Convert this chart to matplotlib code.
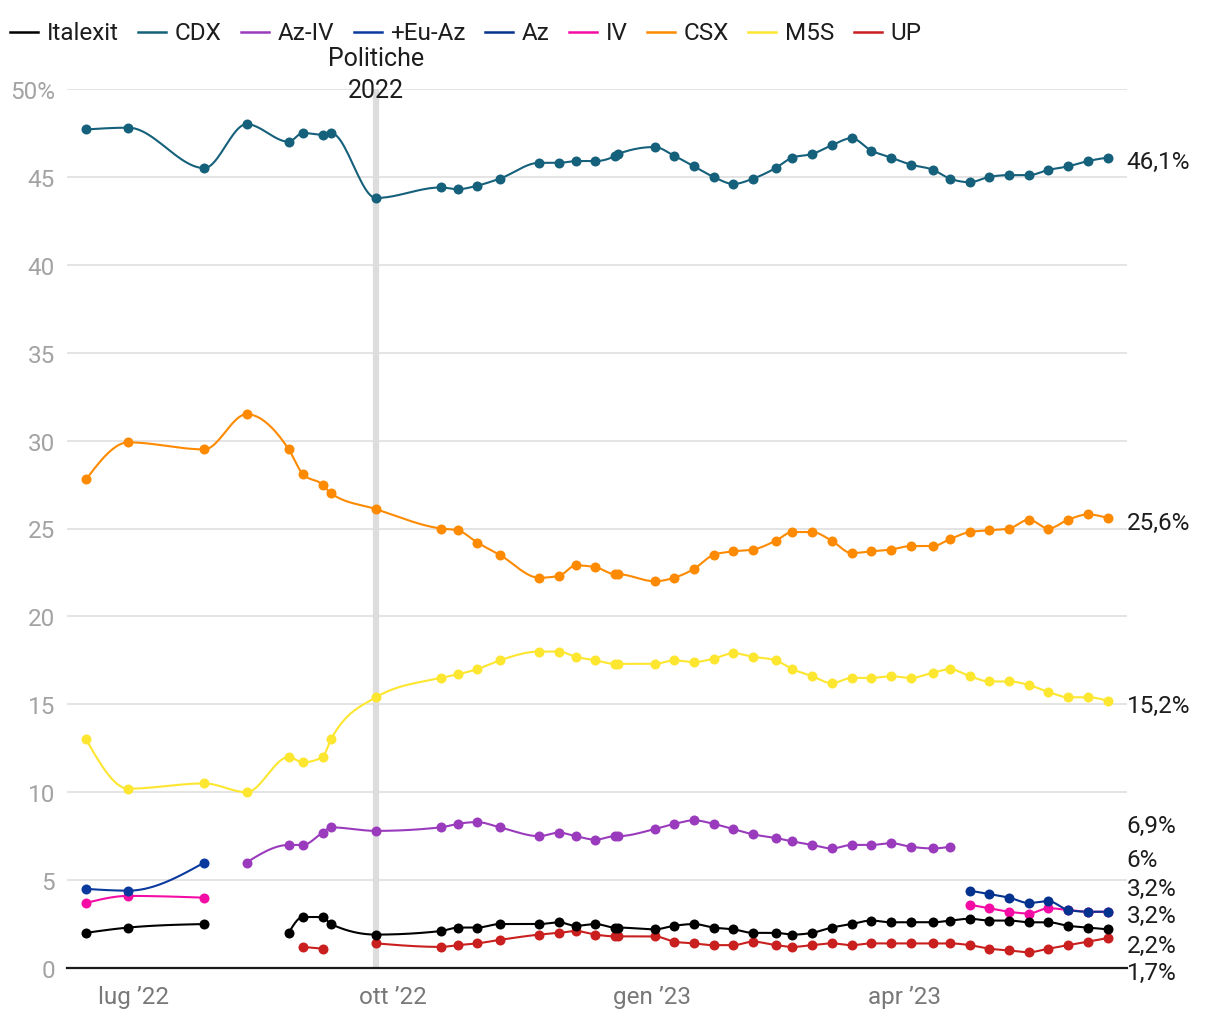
import datetime as dt

import numpy as np
import matplotlib
matplotlib.use("Agg")
import matplotlib.pyplot as plt
import matplotlib.dates as mdates
import matplotlib.transforms as mtransforms
from matplotlib.lines import Line2D

plt.rcParams["font.family"] = ["Roboto", "DejaVu Sans"]

# poll dates (one column per survey)
dates = [
    "2022-06-14", "2022-06-29", "2022-07-26", "2022-08-10", "2022-08-25",
    "2022-08-30", "2022-09-06", "2022-09-09", "2022-09-25", "2022-10-18",
    "2022-10-24", "2022-10-31", "2022-11-08", "2022-11-22", "2022-11-29",
    "2022-12-05", "2022-12-12", "2022-12-19", "2022-12-20", "2023-01-02",
    "2023-01-09", "2023-01-16", "2023-01-23", "2023-01-30", "2023-02-06",
    "2023-02-14", "2023-02-20", "2023-02-27", "2023-03-06", "2023-03-13",
    "2023-03-20", "2023-03-27", "2023-04-03", "2023-04-11", "2023-04-17",
    "2023-04-24", "2023-05-01", "2023-05-08", "2023-05-15", "2023-05-22",
    "2023-05-29", "2023-06-05", "2023-06-12",
]
N = None

italexit = [2.0, 2.3, 2.5, N, 2.0, 2.9, 2.9, 2.5, 1.9,
            2.1, 2.3, 2.3, 2.5, 2.5, 2.6, 2.4, 2.5, 2.3, 2.3,
            2.2, 2.4, 2.5, 2.3, 2.2, 2.0, 2.0, 1.9, 2.0, 2.3,
            2.5, 2.7, 2.6, 2.6, 2.6, 2.7, 2.8, 2.7, 2.7, 2.6,
            2.6, 2.4, 2.3, 2.2]
cdx = [47.7, 47.8, 45.5, 48.0, 47.0, 47.5, 47.4, 47.5, 43.8,
       44.4, 44.3, 44.5, 44.9, 45.8, 45.8, 45.9, 45.9, 46.2, 46.3,
       46.7, 46.2, 45.6, 45.0, 44.6, 44.9, 45.5, 46.1, 46.3, 46.8,
       47.2, 46.5, 46.1, 45.7, 45.4, 44.9, 44.7, 45.0, 45.1, 45.1,
       45.4, 45.6, 45.9, 46.1]
az_iv = [N, N, N, 6.0, 7.0, 7.0, 7.7, 8.0, 7.8,
         8.0, 8.2, 8.3, 8.0, 7.5, 7.7, 7.5, 7.3, 7.5, 7.5,
         7.9, 8.2, 8.4, 8.2, 7.9, 7.6, 7.4, 7.2, 7.0, 6.8,
         7.0, 7.0, 7.1, 6.9, 6.8, 6.9, N, N, N, N,
         N, N, N, N]
eu_az = [4.5, 4.4, 6.0] + [N] * 40
az = [N] * 35 + [4.4, 4.2, 4.0, 3.7, 3.8, 3.3, 3.2, 3.2]
iv = [3.7, 4.1, 4.0] + [N] * 32 + [3.6, 3.4, 3.2, 3.1, 3.4, 3.3, 3.2, 3.2]
csx = [27.8, 29.9, 29.5, 31.5, 29.5, 28.1, 27.5, 27.0, 26.1,
       25.0, 24.9, 24.2, 23.5, 22.2, 22.3, 22.9, 22.8, 22.4, 22.4,
       22.0, 22.2, 22.7, 23.5, 23.7, 23.8, 24.3, 24.8, 24.8, 24.3,
       23.6, 23.7, 23.8, 24.0, 24.0, 24.4, 24.8, 24.9, 25.0, 25.5,
       25.0, 25.5, 25.8, 25.6]
m5s = [13.0, 10.2, 10.5, 10.0, 12.0, 11.7, 12.0, 13.0, 15.4,
       16.5, 16.7, 17.0, 17.5, 18.0, 18.0, 17.7, 17.5, 17.3, 17.3,
       17.3, 17.5, 17.4, 17.6, 17.9, 17.7, 17.5, 17.0, 16.6, 16.2,
       16.5, 16.5, 16.6, 16.5, 16.8, 17.0, 16.6, 16.3, 16.3, 16.1,
       15.7, 15.4, 15.4, 15.2]
up = [N, N, N, N, N, 1.2, 1.1, N, 1.4,
      1.2, 1.3, 1.4, 1.6, 1.9, 2.0, 2.1, 1.9, 1.8, 1.8,
      1.8, 1.5, 1.4, 1.3, 1.3, 1.5, 1.3, 1.2, 1.3, 1.4,
      1.3, 1.4, 1.4, 1.4, 1.4, 1.4, 1.3, 1.1, 1.0, 0.9,
      1.1, 1.3, 1.5, 1.7]

names = ["Italexit", "CDX", "Az-IV", "+Eu-Az", "Az", "IV", "CSX", "M5S", "UP"]
series = [italexit, cdx, az_iv, eu_az, az, iv, csx, m5s, up]
colors = ["#000000", "#15607a", "#9a3bbd", "#0a3a9e", "#04338f",
          "#f50ca5", "#fd8a00", "#fde62f", "#c91f1f"]

x_ticks = ["2022-07-01", "2022-10-01", "2023-01-01", "2023-04-01"]
x_tick_labels = ["lug \u201922", "ott \u201922", "gen \u201923", "apr \u201923"]
election = "2022-09-25"

# where the end labels sit (dodged so they do not overlap)
label_y = {"CDX": 45.9, "CSX": 25.35, "M5S": 14.95, "Az-IV": 8.13,
           "+Eu-Az": 6.2, "Az": 4.55, "IV": 2.96, "Italexit": 1.31, "UP": -0.28}

FS = 17.5


def monotone_curve(x, y, steps=24):
    """Monotone cubic (d3 curveMonotoneX style) through the points"""
    x = np.asarray(x, float)
    y = np.asarray(y, float)
    n = len(x)
    if n < 3:
        return x, y
    h = np.diff(x)
    s = np.diff(y) / h
    t = np.zeros(n)
    for i in range(1, n - 1):
        p = (s[i - 1] * h[i] + s[i] * h[i - 1]) / (h[i - 1] + h[i])
        t[i] = (np.sign(s[i - 1]) + np.sign(s[i])) * min(abs(s[i - 1]), abs(s[i]), 0.5 * abs(p))
    t[0] = (3 * s[0] - t[1]) / 2
    t[-1] = (3 * s[-1] - t[-2]) / 2
    xs, ys = [x[0]], [y[0]]
    u = np.linspace(0, 1, steps)[1:]
    for i in range(n - 1):
        h00 = 2 * u**3 - 3 * u**2 + 1
        h10 = u**3 - 2 * u**2 + u
        h01 = -2 * u**3 + 3 * u**2
        h11 = u**3 - u**2
        xs.extend(x[i] + u * h[i])
        ys.extend(h00 * y[i] + h10 * h[i] * t[i] + h01 * y[i + 1] + h11 * h[i] * t[i + 1])
    return np.array(xs), np.array(ys)


def segments(xv, yv):
    seg_x, seg_y = [], []
    for xi, yi in zip(xv, yv):
        if yi is None:
            if seg_x:
                yield seg_x, seg_y
            seg_x, seg_y = [], []
        else:
            seg_x.append(xi)
            seg_y.append(yi)
    if seg_x:
        yield seg_x, seg_y


def fmt(v):
    txt = f"{v:.1f}".replace(".", ",")
    if txt.endswith(",0"):
        txt = txt[:-2]
    return txt + "%"


W, H = 1220, 1020
fig = plt.figure(figsize=(W / 100, H / 100), dpi=100)
ax = fig.add_axes([67 / W, 1 - 969 / H, 1060 / W, 879 / H])

xnum = mdates.date2num([dt.date.fromisoformat(d) for d in dates])
ref = mdates.date2num(dt.date(2022, 7, 1))
ax.set_xlim(ref - 23.8, ref - 23.8 + 376.7)
ax.set_ylim(0, 50)

# draw back to front so Az sits over IV and Italexit on top
for name, vals, col in reversed(list(zip(names, series, colors))):
    for sx, sy in segments(xnum, vals):
        cx, cy = monotone_curve(sx, sy)
        ax.plot(cx, cy, color=col, lw=1.5, zorder=3, solid_capstyle="round")
        ax.plot(sx, sy, "o", color=col, ms=7.2, mew=0, zorder=4)

# end labels
lab_tr = mtransforms.blended_transform_factory(ax.transAxes, ax.transData)
for name, vals in zip(names, series):
    last = [v for v in vals if v is not None][-1]
    ax.text(0.9995, label_y[name], fmt(last), transform=lab_tr, ha="left", va="center",
            fontsize=FS, color="#1d1d1d", clip_on=False)

# election marker
elec = mdates.date2num(dt.date.fromisoformat(election))
ax.axvline(elec, color="#dddddd", lw=4.5, zorder=1)
ax.text(elec, 50.86, "Politiche\n2022", ha="center", va="center", fontsize=18,
        color="#1d1d1d", linespacing=1.42, clip_on=False, zorder=5)

# axes styling
yt = list(range(0, 51, 5))
ax.set_yticks(yt)
ax.set_yticklabels([str(v) for v in yt[:-1]] + ["50%"])
ax.set_xticks(mdates.date2num([dt.date.fromisoformat(d) for d in x_ticks]))
ax.set_xticklabels(x_tick_labels)
ax.tick_params(axis="y", length=0, pad=8.6, labelsize=FS, labelcolor="#a3a3a3")
ax.tick_params(axis="x", length=0, pad=12.5, labelsize=FS, labelcolor="#787878")
ax.yaxis.grid(True, color="#e2e2e2", lw=1.3)
ax.set_axisbelow(True)
for sp in ["left", "right", "top"]:
    ax.spines[sp].set_visible(False)
ax.spines["bottom"].set_color("#1a1a1a")
ax.spines["bottom"].set_linewidth(1.6)

# legend across the top
renderer = fig.canvas.get_renderer()
lx = 10
ly = 1 - 33 / H
for name, col in zip(names, colors):
    fig.add_artist(Line2D([lx / W, (lx + 28) / W], [ly, ly], color=col, lw=1.8))
    t = fig.text((lx + 37) / W, ly, name, ha="left", va="center", fontsize=FS, color="#1d1d1d")
    bb = t.get_window_extent(renderer)
    lx = bb.x1 + 19

fig.savefig("out.png", dpi=100)
